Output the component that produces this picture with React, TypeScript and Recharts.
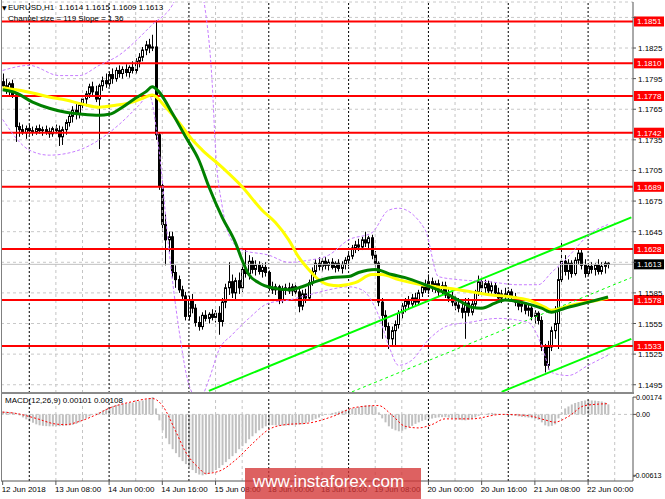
import React from 'react';
import { ComposedChart, Bar, Line, XAxis, YAxis, ReferenceLine, CartesianGrid } from 'recharts';

const FONT = '"Liberation Sans", Arial, sans-serif';

// ---- H1 candles, EURUSD 12 Jun 16:00 .. 22 Jun 06:00 ----
const opens = [
  1.1792, 1.1788, 1.1784, 1.1790, 1.1779, 1.1748, 1.1745, 1.1742, 1.1746, 1.1744,
  1.1743, 1.1746, 1.1744, 1.1745, 1.1743, 1.1741, 1.1746, 1.1744, 1.1738, 1.1745,
  1.1752, 1.1758, 1.1764, 1.1760, 1.1769, 1.1775, 1.1780, 1.1787, 1.1782, 1.1775,
  1.1788, 1.1793, 1.1790, 1.1799, 1.1795, 1.1803, 1.1800, 1.1804, 1.1801, 1.1806,
  1.1803, 1.1812, 1.1816, 1.1823, 1.1828, 1.1825, 1.1826, 1.1740, 1.1690, 1.1652,
  1.1637, 1.1640, 1.1605, 1.1598, 1.1588, 1.1582, 1.1562, 1.1578, 1.1570, 1.1556,
  1.1552, 1.1563, 1.1560, 1.1564, 1.1561, 1.1565, 1.1557, 1.1576, 1.1590, 1.1596,
  1.1585, 1.1597, 1.1590, 1.1608, 1.1604, 1.1616, 1.1608, 1.1612, 1.1606, 1.1610,
  1.1605, 1.1590, 1.1588, 1.1591, 1.1578, 1.1588, 1.1590, 1.1587, 1.1591, 1.1586,
  1.1572, 1.1584, 1.1580, 1.1595, 1.1606, 1.1614, 1.1611, 1.1616, 1.1612, 1.1615,
  1.1610, 1.1614, 1.1609, 1.1613, 1.1617, 1.1621, 1.1629, 1.1632, 1.1630, 1.1637,
  1.1634, 1.1639, 1.1622, 1.1614, 1.1576, 1.1563, 1.1552, 1.1540, 1.1548, 1.1554,
  1.1565, 1.1572, 1.1577, 1.1574, 1.1580, 1.1576, 1.1585, 1.1591, 1.1588, 1.1596,
  1.1590, 1.1594, 1.1586, 1.1592, 1.1583, 1.1580, 1.1576, 1.1573, 1.1570, 1.1566,
  1.1575, 1.1566, 1.1574, 1.1586, 1.1596, 1.1590, 1.1594, 1.1587, 1.1592, 1.1585,
  1.1580, 1.1584, 1.1582, 1.1586, 1.1581, 1.1576, 1.1572, 1.1574, 1.1568, 1.1570,
  1.1562, 1.1565, 1.1558, 1.1532, 1.1514, 1.1532, 1.1548, 1.1555, 1.1598, 1.1616,
  1.1606, 1.1614, 1.1604, 1.1617, 1.1624, 1.1612, 1.1604, 1.1611, 1.1608, 1.1612,
  1.1606, 1.1611, 1.1614,
];
const highs = [
  1.1800, 1.1795, 1.1792, 1.1794, 1.1781, 1.1752, 1.1750, 1.1749, 1.1750, 1.1748,
  1.1749, 1.1750, 1.1748, 1.1749, 1.1747, 1.1748, 1.1750, 1.1749, 1.1748, 1.1755,
  1.1762, 1.1768, 1.1770, 1.1772, 1.1778, 1.1783, 1.1790, 1.1792, 1.1788, 1.1790,
  1.1797, 1.1800, 1.1802, 1.1805, 1.1806, 1.1808, 1.1807, 1.1809, 1.1808, 1.1812,
  1.1815, 1.1820, 1.1826, 1.1832, 1.1834, 1.1838, 1.1852, 1.1742, 1.1695, 1.1662,
  1.1645, 1.1645, 1.1612, 1.1602, 1.1592, 1.1586, 1.1582, 1.1584, 1.1574, 1.1562,
  1.1566, 1.1568, 1.1566, 1.1569, 1.1568, 1.1572, 1.1580, 1.1594, 1.1615, 1.1603,
  1.1600, 1.1605, 1.1612, 1.1628, 1.1622, 1.1620, 1.1617, 1.1616, 1.1614, 1.1615,
  1.1607, 1.1596, 1.1594, 1.1593, 1.1592, 1.1594, 1.1595, 1.1594, 1.1595, 1.1590,
  1.1588, 1.1589, 1.1598, 1.1610, 1.1618, 1.1620, 1.1619, 1.1620, 1.1618, 1.1619,
  1.1616, 1.1618, 1.1616, 1.1620, 1.1624, 1.1632, 1.1636, 1.1638, 1.1640, 1.1645,
  1.1641, 1.1642, 1.1626, 1.1616, 1.1580, 1.1568, 1.1556, 1.1552, 1.1558, 1.1568,
  1.1575, 1.1580, 1.1582, 1.1584, 1.1585, 1.1588, 1.1594, 1.1598, 1.1603, 1.1600,
  1.1597, 1.1598, 1.1596, 1.1596, 1.1589, 1.1586, 1.1582, 1.1580, 1.1576, 1.1580,
  1.1580, 1.1578, 1.1588, 1.1602, 1.1600, 1.1598, 1.1597, 1.1596, 1.1595, 1.1590,
  1.1588, 1.1590, 1.1588, 1.1589, 1.1585, 1.1580, 1.1578, 1.1576, 1.1574, 1.1572,
  1.1568, 1.1567, 1.1562, 1.1535, 1.1538, 1.1552, 1.1572, 1.1610, 1.1635, 1.1622,
  1.1618, 1.1617, 1.1620, 1.1628, 1.1628, 1.1618, 1.1614, 1.1615, 1.1614, 1.1618,
  1.1615, 1.1616, 1.1615,
];
const lows = [
  1.1785, 1.1780, 1.1778, 1.1776, 1.1733, 1.1738, 1.1740, 1.1736, 1.1740, 1.1739,
  1.1740, 1.1741, 1.1739, 1.1740, 1.1737, 1.1738, 1.1741, 1.1729, 1.1730, 1.1740,
  1.1748, 1.1752, 1.1755, 1.1756, 1.1764, 1.1768, 1.1776, 1.1778, 1.1772, 1.1726,
  1.1783, 1.1786, 1.1787, 1.1790, 1.1792, 1.1796, 1.1795, 1.1797, 1.1796, 1.1800,
  1.1800, 1.1806, 1.1812, 1.1818, 1.1820, 1.1822, 1.1735, 1.1686, 1.1645, 1.1612,
  1.1625, 1.1600, 1.1590, 1.1585, 1.1578, 1.1558, 1.1558, 1.1565, 1.1552, 1.1548,
  1.1549, 1.1557, 1.1555, 1.1558, 1.1556, 1.1544, 1.1552, 1.1570, 1.1583, 1.1580,
  1.1578, 1.1584, 1.1586, 1.1600, 1.1598, 1.1604, 1.1602, 1.1603, 1.1600, 1.1601,
  1.1587, 1.1584, 1.1583, 1.1574, 1.1575, 1.1583, 1.1584, 1.1582, 1.1583, 1.1566,
  1.1568, 1.1575, 1.1578, 1.1592, 1.1602, 1.1607, 1.1606, 1.1608, 1.1607, 1.1608,
  1.1605, 1.1606, 1.1604, 1.1608, 1.1611, 1.1618, 1.1624, 1.1626, 1.1627, 1.1630,
  1.1628, 1.1618, 1.1610, 1.1572, 1.1540, 1.1548, 1.1530, 1.1534, 1.1532, 1.1550,
  1.1560, 1.1566, 1.1570, 1.1571, 1.1573, 1.1574, 1.1581, 1.1585, 1.1584, 1.1586,
  1.1585, 1.1582, 1.1583, 1.1580, 1.1576, 1.1572, 1.1568, 1.1566, 1.1560, 1.1540,
  1.1562, 1.1563, 1.1571, 1.1582, 1.1586, 1.1584, 1.1583, 1.1584, 1.1582, 1.1576,
  1.1575, 1.1578, 1.1577, 1.1578, 1.1572, 1.1568, 1.1566, 1.1564, 1.1562, 1.1558,
  1.1555, 1.1554, 1.1528, 1.1507, 1.1510, 1.1528, 1.1540, 1.1530, 1.1594, 1.1602,
  1.1598, 1.1600, 1.1602, 1.1613, 1.1608, 1.1600, 1.1602, 1.1604, 1.1602, 1.1603,
  1.1603, 1.1604, 1.1609,
];
const closes = [
  1.1788, 1.1784, 1.1790, 1.1779, 1.1748, 1.1745, 1.1742, 1.1746, 1.1744, 1.1743,
  1.1746, 1.1744, 1.1745, 1.1743, 1.1741, 1.1746, 1.1744, 1.1738, 1.1745, 1.1752,
  1.1758, 1.1764, 1.1760, 1.1769, 1.1775, 1.1780, 1.1787, 1.1782, 1.1775, 1.1788,
  1.1793, 1.1790, 1.1799, 1.1795, 1.1803, 1.1800, 1.1804, 1.1801, 1.1806, 1.1803,
  1.1812, 1.1816, 1.1823, 1.1828, 1.1825, 1.1826, 1.1740, 1.1690, 1.1652, 1.1637,
  1.1640, 1.1605, 1.1598, 1.1588, 1.1582, 1.1562, 1.1578, 1.1570, 1.1556, 1.1552,
  1.1563, 1.1560, 1.1564, 1.1561, 1.1565, 1.1557, 1.1576, 1.1590, 1.1596, 1.1585,
  1.1597, 1.1590, 1.1608, 1.1604, 1.1616, 1.1608, 1.1612, 1.1606, 1.1610, 1.1605,
  1.1590, 1.1588, 1.1591, 1.1578, 1.1588, 1.1590, 1.1587, 1.1591, 1.1586, 1.1572,
  1.1584, 1.1580, 1.1595, 1.1606, 1.1614, 1.1611, 1.1616, 1.1612, 1.1615, 1.1610,
  1.1614, 1.1609, 1.1613, 1.1617, 1.1621, 1.1629, 1.1632, 1.1630, 1.1637, 1.1634,
  1.1639, 1.1622, 1.1614, 1.1576, 1.1563, 1.1552, 1.1540, 1.1548, 1.1554, 1.1565,
  1.1572, 1.1577, 1.1574, 1.1580, 1.1576, 1.1585, 1.1591, 1.1588, 1.1596, 1.1590,
  1.1594, 1.1586, 1.1592, 1.1583, 1.1580, 1.1576, 1.1573, 1.1570, 1.1566, 1.1575,
  1.1566, 1.1574, 1.1586, 1.1596, 1.1590, 1.1594, 1.1587, 1.1592, 1.1585, 1.1580,
  1.1584, 1.1582, 1.1586, 1.1581, 1.1576, 1.1572, 1.1574, 1.1568, 1.1570, 1.1562,
  1.1565, 1.1558, 1.1532, 1.1514, 1.1532, 1.1548, 1.1555, 1.1598, 1.1616, 1.1606,
  1.1614, 1.1604, 1.1617, 1.1624, 1.1612, 1.1604, 1.1611, 1.1608, 1.1612, 1.1606,
  1.1611, 1.1614, 1.1613,
];
const slotCount = 190; // bars + empty chart shift on the right

// ---- moving averages / bands, read at sample bars: [bar index, price] ----
const greenMaPts: [number, number][] = [
  [0, 1.1784], [4, 1.1781], [9, 1.1772], [14, 1.1766], [19, 1.1762], [24, 1.1760], [29, 1.1759],
  [32, 1.1760], [36, 1.1767], [40, 1.1776], [43, 1.1782], [45, 1.1787], [47, 1.1782], [51, 1.1761],
  [55, 1.1738], [59, 1.1715], [62, 1.1689], [66, 1.1659], [70, 1.1634], [72, 1.1617], [74, 1.1603],
  [77, 1.1595], [81, 1.1590], [86, 1.1588], [90, 1.1591], [94, 1.1596], [99, 1.1600], [104, 1.1601],
  [107, 1.1605], [112, 1.1608], [117, 1.1603], [121, 1.1600], [127, 1.1593], [133, 1.1585],
  [138, 1.1576], [141, 1.1571], [144, 1.1570], [148, 1.1575], [151, 1.1578], [157, 1.1575],
  [162, 1.1570], [165, 1.1566], [169, 1.1570], [175, 1.1575], [182, 1.1581],
];
const yellowMaPts: [number, number][] = [
  [0, 1.1786], [4, 1.1784], [9, 1.1781], [14, 1.1777], [19, 1.1774], [24, 1.1770], [29, 1.1767],
  [34, 1.1769], [39, 1.1772], [43, 1.1777], [45, 1.1779], [49, 1.1767], [53, 1.1752], [57, 1.1735],
  [60, 1.1725], [66, 1.1708], [72, 1.1689], [78, 1.1666], [82, 1.1654], [86, 1.1637], [89, 1.1620],
  [92, 1.1608], [95, 1.1598], [98, 1.1593], [101, 1.1592], [106, 1.1595], [111, 1.1603],
  [114, 1.1603], [119, 1.1598], [126, 1.1593], [133, 1.1590], [141, 1.1586], [147, 1.1583],
  [153, 1.1581], [158, 1.1578], [163, 1.1571], [165, 1.1568], [171, 1.1573], [176, 1.1576],
  [182, 1.1580],
];
const upperBandPts: [number, number][] = [
  [0, 1.1803], [8, 1.1808], [17, 1.1798], [23, 1.1798], [29, 1.1808], [35, 1.1818], [41, 1.1835],
  [45, 1.1848], [50, 1.1862], [54, 1.1882], [59, 1.1887], [61, 1.1860], [63, 1.1790], [64, 1.1725],
  [66, 1.1670], [68, 1.1642], [72, 1.1627], [80, 1.1622], [86, 1.1615], [92, 1.1617], [98, 1.1622],
  [104, 1.1637], [111, 1.1644], [116, 1.1666], [119, 1.1668], [127, 1.1647], [131, 1.1601],
  [137, 1.1598], [146, 1.1596], [155, 1.1593], [161, 1.1593], [165, 1.1605], [169, 1.1617],
  [177, 1.1644], [182, 1.1652],
];
const lowerBandPts: [number, number][] = [
  [0, 1.1755], [8, 1.1725], [14, 1.1720], [23, 1.1725], [29, 1.1735], [35, 1.1750], [41, 1.1769],
  [44, 1.1779], [47, 1.1725], [50, 1.1627], [53, 1.1549], [56, 1.1495], [59, 1.1480], [62, 1.1500],
  [65, 1.1529], [69, 1.1544], [74, 1.1560], [80, 1.1575], [86, 1.1578], [92, 1.1583], [98, 1.1588],
  [104, 1.1591], [108, 1.1588], [113, 1.1563], [116, 1.1534], [119, 1.1514], [123, 1.1519],
  [128, 1.1539], [134, 1.1553], [140, 1.1556], [149, 1.1560], [158, 1.1556], [162, 1.1534],
  [165, 1.1507], [170, 1.1504], [176, 1.1514], [182, 1.1524],
];

// ---- MACD(12,26,9), in units of 0.00001 ----
const macdHist = [
  30, 28, 25, 20, 12, -10, -30, -50, -70, -85,
  -100, -110, -115, -118, -120, -120, -118, -118, -115, -112,
  -110, -105, -95, -80, -60, -40, -20, 0, 10, 20,
  40, 55, 70, 85, 95, 100, 105, 110, 115, 120,
  128, 135, 140, 150, 165, 174, 60, -60, -160, -240,
  -300, -350, -390, -430, -470, -500, -530, -560, -590, -605,
  -613, -605, -595, -580, -560, -540, -510, -480, -450, -420,
  -390, -350, -320, -290, -250, -220, -190, -160, -140, -120,
  -110, -108, -110, -112, -112, -112, -110, -108, -105, -102,
  -100, -90, -75, -60, -45, -30, -15, -5, 5, 15,
  22, 30, 38, 45, 50, 58, 65, 75, 85, 90,
  92, 90, 75, 20, -40, -80, -120, -145, -160, -170,
  -165, -150, -130, -115, -95, -80, -65, -55, -50, -42,
  -35, -30, -28, -28, -32, -38, -45, -52, -58, -60,
  -55, -45, -30, -15, -5, 5, 12, 15, 10, 5,
  0, -5, -8, -12, -15, -20, -25, -28, -32, -38,
  -45, -55, -80, -110, -120, -115, -100, -40, 20, 60,
  80, 100, 115, 125, 135, 140, 142, 140, 138, 135,
  130, 120, 101,
];
const macdSignalPts: [number, number][] = [
  [0, 23], [4, 10], [10, -40], [16, -97], [19, -103], [23, -71], [28, -5], [32, 62], [39, 128],
  [45, 160], [48, 90], [52, -168], [55, -378], [59, -540], [61, -594], [65, -572], [70, -459],
  [75, -297], [80, -152], [85, -103], [92, -87], [99, -23], [106, 70], [113, 89], [117, -6],
  [121, -120], [125, -136], [129, -103], [133, -45], [141, -45], [150, 0], [158, -13], [163, -55],
  [166, -78], [170, -23], [175, 89], [182, 108],
];

// ---- levels, ticks, channel ----
const supportResistance = [1.1851, 1.1810, 1.1778, 1.1742, 1.1689, 1.1628, 1.1578, 1.1533];
const lastPrice = 1.1613;
const priceTicks = [1.1855, 1.1825, 1.1795, 1.1765, 1.1735, 1.1705, 1.1675, 1.1645, 1.1615, 1.1585, 1.1555, 1.1525, 1.1495];
const hiddenPriceTicks = ['1.1615', '1.1855'];
const channelLines = [
  { x1: 62, y1: 1.1489, x2: 189, y2: 1.1659, dashed: false },
  { x1: 105, y1: 1.1488, x2: 189, y2: 1.1600, dashed: true },
  { x1: 150, y1: 1.1488, x2: 189, y2: 1.1540, dashed: false },
];
const dayStartIdx = [8, 32, 56, 80, 104, 128, 152, 176];
const gridIdx = [16, 24, 40, 48, 64, 72, 88, 96, 112, 120, 136, 144, 160, 168, 184];
const xTickIdx = [0, 16, 32, 48, 64, 80, 96, 112, 128, 144, 160, 176];
const xTickLabels = [
  '12 Jun 2018', '13 Jun 08:00', '14 Jun 00:00', '14 Jun 16:00', '15 Jun 08:00', '18 Jun 00:00',
  '18 Jun 16:00', '19 Jun 08:00', '20 Jun 00:00', '20 Jun 16:00', '21 Jun 08:00', '22 Jun 00:00',
];
const macdTicks = [0.00174, 0, -0.00613];

// ---- table ----
const toMap = (pts: [number, number][]) => new Map(pts.map(([i, v]) => [i, v]));
const gMap = toMap(greenMaPts);
const yMap = toMap(yellowMaPts);
const ubMap = toMap(upperBandPts);
const lbMap = toMap(lowerBandPts);
const sMap = toMap(macdSignalPts);

const rows = Array.from({ length: slotCount }, (_, i) => {
  const has = i < opens.length;
  const s = sMap.get(i);
  return {
    i,
    o: has ? opens[i] : undefined,
    h: has ? highs[i] : undefined,
    l: has ? lows[i] : undefined,
    c: has ? closes[i] : undefined,
    range: has ? [lows[i], highs[i]] : undefined,
    maFast: gMap.get(i),
    maSlow: yMap.get(i),
    bandUp: ubMap.get(i),
    bandLo: lbMap.get(i),
    hist: has ? macdHist[i] * 1e-5 : undefined,
    sig: s !== undefined ? s * 1e-5 : undefined,
  };
});

const Candle = (props: any) => {
  const { x, y, width, height, payload } = props;
  if (!payload || payload.o == null) return null;
  const { o, h, l, c } = payload;
  const top = Math.min(y, y + height);
  const hgt = Math.abs(height);
  const span = h - l;
  const py = (p: number) => (span > 0 ? top + ((h - p) / span) * hgt : top);
  const cx = Math.round(x + width / 2) + 0.5;
  const bTop = py(Math.max(o, c));
  const bBot = py(Math.min(o, c));
  const bull = c > o;
  return (
    <g>
      <line x1={cx} x2={cx} y1={top} y2={top + Math.max(hgt, 1)} stroke="#000" strokeWidth={1} />
      <rect x={cx - 1} y={bTop} width={2} height={Math.max(bBot - bTop, 0.5)} fill={bull ? '#fff' : '#000'} stroke="#000" strokeWidth={1} />
    </g>
  );
};

const PriceTag = (props: any) => {
  const { viewBox, text, bg } = props;
  if (!viewBox) return null;
  const x0 = viewBox.x + viewBox.width + 1;
  const yc = viewBox.y;
  return (
    <g>
      <rect x={x0} y={yc - 5} width={30} height={10} fill={bg} />
      <text x={x0 + 3} y={yc + 3} fill="#fff" fontSize={8} fontFamily={FONT}>{text}</text>
    </g>
  );
};

const PriceTick = (props: any) => {
  const { x, y, payload } = props;
  const t = Number(payload.value).toFixed(4);
  if (hiddenPriceTicks.includes(t)) return null;
  return (
    <text x={x} y={y + 3} fontSize={8} fontFamily={FONT} fill="#000" textAnchor="start">{t}</text>
  );
};

const MacdTick = (props: any) => {
  const { x, y, payload } = props;
  const v = Number(payload.value);
  const t = v === 0 ? '0.00' : v.toFixed(5);
  return (
    <text x={v < 0 ? x - 5 : x - 2} y={y + 3} fontSize={7.2} fontFamily={FONT} fill="#000" textAnchor="start">{t}</text>
  );
};

const TimeTick = (props: any) => {
  const { x, y, payload } = props;
  const k = xTickIdx.indexOf(Number(payload.value));
  if (k < 0) return null;
  return (
    <text x={x - 1} y={y + 5} fontSize={8} fontFamily={FONT} fill="#000" textAnchor="start">{xTickLabels[k]}</text>
  );
};

export default function App() {
  return (
    <div style={{ position: 'absolute', left: 0, top: 0, width: 665, height: 499, background: '#fff', overflow: 'hidden' }}>
      <div style={{ position: 'absolute', left: 0, top: 0 }}>
        <ComposedChart width={665} height={394} data={rows} margin={{ top: 2, right: 0, left: 1, bottom: 1 }} barCategoryGap={0}>
          <CartesianGrid vertical={false} stroke="#c8c8c8" strokeDasharray="3 3" />
          <XAxis dataKey="i" type="category" hide />
          <YAxis
            orientation="right"
            width={32}
            domain={[1.14869, 1.18701]}
            allowDataOverflow
            ticks={priceTicks}
            interval={0}
            tick={<PriceTick />}
            tickSize={3}
            tickMargin={2}
            tickLine={{ stroke: '#555' }}
            axisLine={{ stroke: '#555' }}
          />
          {gridIdx.map((i) => (
            <ReferenceLine key={'g' + i} x={i} stroke="#c4c4c4" strokeDasharray="3 3" />
          ))}
          {dayStartIdx.map((i) => (
            <ReferenceLine key={'d' + i} x={i} stroke="#000" strokeDasharray="2 2" />
          ))}
          <ReferenceLine y={lastPrice} stroke="#c0c0c0" label={<PriceTag text={lastPrice.toFixed(4)} bg="#000" />} />
          {supportResistance.map((v) => (
            <ReferenceLine key={'sr' + v} y={v} stroke="#ff0000" strokeWidth={2} label={<PriceTag text={v.toFixed(4)} bg="#ff0000" />} />
          ))}
          {channelLines.map((c, k) => (
            <ReferenceLine
              key={'ch' + k}
              segment={[{ x: c.x1, y: c.y1 }, { x: c.x2, y: c.y2 }]}
              stroke="#00ff00"
              strokeWidth={c.dashed ? 1 : 2}
              strokeDasharray={c.dashed ? '3 3' : undefined}
            />
          ))}
          <Bar dataKey="range" shape={<Candle />} isAnimationActive={false} />
          <Line dataKey="bandUp" type="monotone" connectNulls dot={false} stroke="#c77dff" strokeWidth={1} strokeDasharray="3 2" isAnimationActive={false} />
          <Line dataKey="bandLo" type="monotone" connectNulls dot={false} stroke="#c77dff" strokeWidth={1} strokeDasharray="3 2" isAnimationActive={false} />
          <Line dataKey="maSlow" type="monotone" connectNulls dot={false} stroke="#ffff00" strokeWidth={3} isAnimationActive={false} />
          <Line dataKey="maFast" type="monotone" connectNulls dot={false} stroke="#008000" strokeWidth={3} isAnimationActive={false} />
        </ComposedChart>
      </div>
      <div style={{ position: 'absolute', left: 0, top: 393 }}>
        <ComposedChart width={665} height={106} data={rows} margin={{ top: 4, right: 0, left: 1, bottom: 0 }} barCategoryGap={0}>
          <XAxis
            dataKey="i"
            type="category"
            ticks={xTickIdx}
            interval={0}
            height={18}
            tick={<TimeTick />}
            tickSize={4}
            tickMargin={2}
            tickLine={{ stroke: '#555' }}
            axisLine={{ stroke: '#555' }}
          />
          <YAxis
            orientation="right"
            width={32}
            domain={[-0.0067, 0.00175]}
            allowDataOverflow
            ticks={macdTicks}
            interval={0}
            tick={<MacdTick />}
            tickSize={3}
            tickMargin={2}
            tickLine={{ stroke: '#555' }}
            axisLine={{ stroke: '#555' }}
          />
          {gridIdx.map((i) => (
            <ReferenceLine key={'mg' + i} x={i} stroke="#c4c4c4" strokeDasharray="3 3" />
          ))}
          {dayStartIdx.map((i) => (
            <ReferenceLine key={'md' + i} x={i} stroke="#000" strokeDasharray="2 2" />
          ))}
          <ReferenceLine y={0} stroke="#c4c4c4" strokeDasharray="3 3" />
          <Bar dataKey="hist" fill="#c0c0c0" barSize={2} isAnimationActive={false} />
          <Line dataKey="sig" type="monotone" connectNulls dot={false} stroke="#ff0000" strokeWidth={1} strokeDasharray="2 2" isAnimationActive={false} />
        </ComposedChart>
      </div>
      {/* frame */}
      <div style={{ position: 'absolute', left: 1, top: 0, width: 1, height: 481, background: '#808080' }} />
      <div style={{ position: 'absolute', left: 1, top: 392, width: 633, height: 2, background: '#8a8a8a' }} />
      {/* header texts */}
      <div style={{ position: 'absolute', left: 2, top: 3, fontSize: 6, lineHeight: '10px', fontFamily: '"DejaVu Sans", sans-serif', color: '#000' }}>▼</div>
      <div style={{ position: 'absolute', left: 8, top: 3, fontSize: 8, lineHeight: '10px', fontFamily: FONT, color: '#000', whiteSpace: 'pre' }}>EURUSD,H1  1.1614 1.1615 1.1609 1.1613</div>
      <div style={{ position: 'absolute', left: 8, top: 14, fontSize: 8, lineHeight: '10px', fontFamily: FONT, color: '#000', whiteSpace: 'pre' }}>Channel size = 119 Slope = 1.36</div>
      <div style={{ position: 'absolute', left: 5, top: 396, fontSize: 8, lineHeight: '10px', fontFamily: FONT, color: '#000', whiteSpace: 'pre' }}>MACD(12,26,9) 0.00101 0.00108</div>
      {/* watermark */}
      <div style={{ position: 'absolute', left: 245, top: 468, width: 176, height: 31, background: 'rgba(212,52,52,0.78)' }}>
        <span style={{ position: 'absolute', left: 8, top: 5, fontSize: 17, lineHeight: '17px', fontFamily: FONT, color: '#fff', whiteSpace: 'pre' }}>www.instaforex.com</span>
      </div>
    </div>
  );
}
